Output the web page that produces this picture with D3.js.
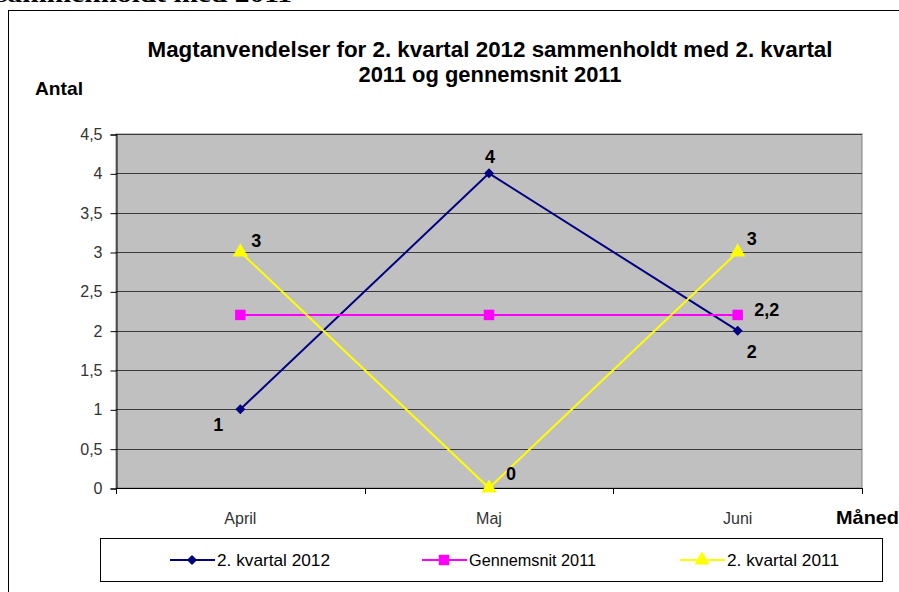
<!DOCTYPE html>
<html>
<head>
<meta charset="utf-8">
<script src="https://cdn.jsdelivr.net/npm/d3@7"></script>
<style>
  body { margin: 0; background: #fff; }
  text { font-family: "Liberation Sans", Arial, sans-serif; }
</style>
</head>
<body>
<div id="chart"></div>
<script>
// chart values
var months = ["April", "Maj", "Juni"];
var kvartal2012 = [1, 4, 2];
var gennemsnit2011 = [2.2, 2.2, 2.2];
var kvartal2011 = [3, 0, 3];
var yTicks = [0, 0.5, 1, 1.5, 2, 2.5, 3, 3.5, 4, 4.5];
var seriesNames = ["2. kvartal 2012", "Gennemsnit 2011", "2. kvartal 2011"];
// which points carry a value label
var showLabels = [[true, true, true], [false, false, true], [true, true, true]];

var width = 899;
var height = 592;

// plot area
var plot = { left: 116, top: 134, right: 862, bottom: 488 };

var svg = d3.select("#chart")
  .append("svg")
  .attr("width", width)
  .attr("height", height);

// cut off caption above the frame
svg.append("text")
  .attr("x", -4)
  .attr("y", 2)
  .attr("textLength", 296)
  .attr("lengthAdjust", "spacingAndGlyphs")
  .style("font-family", "Liberation Serif, serif")
  .style("font-weight", "bold")
  .style("font-size", "24px")
  .text("sammenholdt med 2011");

// outer chart frame
svg.append("rect")
  .attr("x", 8.5)
  .attr("y", 10.5)
  .attr("width", 1000)
  .attr("height", 700)
  .attr("fill", "#fff")
  .attr("stroke", "#000")
  .attr("stroke-width", 1);

var x = d3.scaleBand()
  .domain(months)
  .range([plot.left, plot.right]);

var y = d3.scaleLinear()
  .domain([0, 4.5])
  .range([plot.bottom, plot.top]);

var cx = function (m) { return x(m) + x.bandwidth() / 2; };

// plot background
svg.append("rect")
  .attr("x", plot.left)
  .attr("y", plot.top)
  .attr("width", plot.right - plot.left)
  .attr("height", plot.bottom - plot.top)
  .attr("fill", "#c0c0c0")
  .attr("stroke", "#808080")
  .attr("stroke-width", 1);

// gridlines
svg.append("g")
  .selectAll("line")
  .data(yTicks.filter(function (d) { return d > 0; }))
  .enter()
  .append("line")
  .attr("x1", plot.left)
  .attr("x2", plot.right)
  .attr("y1", function (d) { return Math.round(y(d)) + 0.5; })
  .attr("y2", function (d) { return Math.round(y(d)) + 0.5; })
  .attr("stroke", "#3a3a3a")
  .attr("stroke-width", 1);

// y axis
var yAxis = d3.axisLeft(y)
  .tickValues(yTicks)
  .tickSize(6)
  .tickPadding(8)
  .tickFormat(function (d) { return String(d).replace(".", ","); });

var gy = svg.append("g")
  .attr("transform", "translate(" + (plot.left + 0.5) + ",0.5)")
  .call(yAxis);
gy.select(".domain").attr("stroke", "#000");
gy.selectAll(".tick line").attr("stroke", "#000");
gy.selectAll(".tick text")
  .style("font-size", "16px")
  .style("font-family", "Liberation Sans, Arial, sans-serif")
  .attr("fill", "#333");

// x axis: line, ticks at category borders, labels in the middle
var gx = svg.append("g");
gx.append("line")
  .attr("x1", plot.left)
  .attr("x2", plot.right)
  .attr("y1", plot.bottom + 0.5)
  .attr("y2", plot.bottom + 0.5)
  .attr("stroke", "#000");
gx.selectAll(".xtick")
  .data(months.map(function (m) { return x(m); }).concat([x.range()[1]]))
  .enter()
  .append("line")
  .attr("x1", function (d) { return Math.round(d) + 0.5; })
  .attr("x2", function (d) { return Math.round(d) + 0.5; })
  .attr("y1", plot.bottom)
  .attr("y2", plot.bottom + 6)
  .attr("stroke", "#000");
gx.selectAll(".xlabel")
  .data(months)
  .enter()
  .append("text")
  .attr("x", cx)
  .attr("y", 524)
  .attr("text-anchor", "middle")
  .attr("fill", "#333")
  .style("font-size", "16px")
  .text(function (d) { return d; });

// titles
var titleLines = ["Magtanvendelser for 2. kvartal 2012 sammenholdt med 2. kvartal", "2011 og gennemsnit 2011"];
var titleWidths = [685, 263];
svg.selectAll(".title")
  .data(titleLines)
  .enter()
  .append("text")
  .attr("x", 490)
  .attr("y", function (d, i) { return 57 + i * 25; })
  .attr("text-anchor", "middle")
  .attr("textLength", function (d, i) { return titleWidths[i]; })
  .attr("lengthAdjust", "spacingAndGlyphs")
  .style("font-size", "22px")
  .style("font-weight", "bold")
  .text(function (d) { return d; });

svg.append("text")
  .attr("x", 35)
  .attr("y", 95)
  .attr("textLength", 48)
  .attr("lengthAdjust", "spacingAndGlyphs")
  .style("font-size", "19px")
  .style("font-weight", "bold")
  .text("Antal");

svg.append("text")
  .attr("x", 836)
  .attr("y", 524)
  .attr("textLength", 63)
  .attr("lengthAdjust", "spacingAndGlyphs")
  .style("font-size", "19px")
  .style("font-weight", "bold")
  .text("Måned");

// series
var colors = ["#000080", "#ff00ff", "#ffff00"];
var symbols = [d3.symbolSquare, d3.symbolSquare, d3.symbolTriangle];
var symbolSizes = [50, 110, 100];
var symbolRotate = [45, 0, 0];
var allSeries = [kvartal2012, gennemsnit2011, kvartal2011];
// label offsets per series and point (dx, dy)
var labelOffsets = [
  [[-22, 16], [1, -16], [14, 21]],
  [[0, 0], [0, 0], [29, -5]],
  [[16, -11], [22, -14], [14, -13]]
];

var line = d3.line()
  .x(function (d, i) { return cx(months[i]); })
  .y(function (d) { return y(d); });

allSeries.forEach(function (vals, s) {
  var g = svg.append("g");
  g.append("path")
    .datum(vals)
    .attr("d", line)
    .attr("fill", "none")
    .attr("stroke", colors[s])
    .attr("stroke-width", 2);
  g.selectAll("path.mark")
    .data(vals)
    .enter()
    .append("path")
    .attr("class", "mark")
    .attr("d", d3.symbol().type(symbols[s]).size(symbolSizes[s]))
    .attr("transform", function (d, i) {
      return "translate(" + cx(months[i]) + "," + y(d) + ") rotate(" + symbolRotate[s] + ")";
    })
    .attr("fill", colors[s]);
});

// value labels
allSeries.forEach(function (vals, s) {
  var pts = vals.map(function (v, i) { return { v: v, i: i }; })
    .filter(function (p) { return showLabels[s][p.i]; });
  svg.append("g")
    .selectAll("text")
    .data(pts)
    .enter()
    .append("text")
    .attr("x", function (p) { return cx(months[p.i]) + labelOffsets[s][p.i][0]; })
    .attr("y", function (p) { return y(p.v) + labelOffsets[s][p.i][1]; })
    .attr("text-anchor", "middle")
    .attr("dominant-baseline", "central")
    .style("font-size", "18px")
    .style("font-weight", "bold")
    .text(function (p) { return String(p.v).replace(".", ","); });
});

// legend
var legend = svg.append("g");
legend.append("rect")
  .attr("x", 100.5)
  .attr("y", 538.5)
  .attr("width", 782)
  .attr("height", 43)
  .attr("fill", "#fff")
  .attr("stroke", "#000");

var legendX = [170, 422, 680];
var legendTextW = [113, 127, 112];
seriesNames.forEach(function (name, s) {
  var lg = legend.append("g").attr("transform", "translate(" + legendX[s] + ",560)");
  lg.append("line")
    .attr("x1", 0)
    .attr("x2", 45)
    .attr("stroke", colors[s])
    .attr("stroke-width", 2);
  lg.append("path")
    .attr("d", d3.symbol().type(symbols[s]).size(symbolSizes[s]))
    .attr("transform", "translate(22,0) rotate(" + symbolRotate[s] + ")")
    .attr("fill", colors[s]);
  lg.append("text")
    .attr("x", 47)
    .attr("y", 0)
    .attr("dominant-baseline", "central")
    .attr("textLength", legendTextW[s])
    .attr("lengthAdjust", "spacingAndGlyphs")
    .style("font-size", "17px")
    .text(name);
});
</script>
</body>
</html>
